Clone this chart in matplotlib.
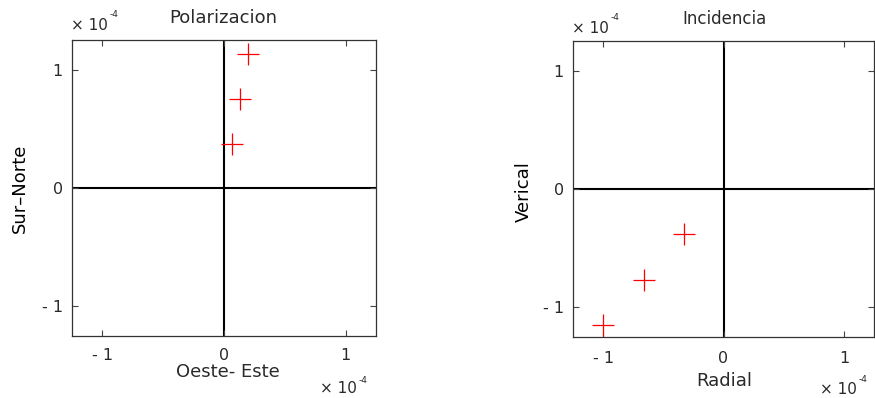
import matplotlib
matplotlib.use("Agg")
import matplotlib.pyplot as plt

plt.rcParams['font.family'] = ['DejaVu Sans']

# Polarization components (East-West, South-North)
pol_oeste_este = [0.067e-4, 0.13e-4, 0.20e-4]
pol_sur_norte = [0.37e-4, 0.75e-4, 1.13e-4]

# Incidence components (Radial, Vertical)
inc_radial = [-0.33e-4, -0.66e-4, -1.00e-4]
inc_vertical = [-0.38e-4, -0.77e-4, -1.15e-4]

tick_vals = [-1e-4, 0, 1e-4]
tick_labels = ["- 1", "0", "1"]
lim = 1.25e-4

W, H = 875, 398
txt = "#2a2a2a"
fig = plt.figure(figsize=(W / 100, H / 100), dpi=100)


def px(x, y):
    """Pixel position (from top-left) to figure fraction."""
    return x / W, 1 - y / H


def frame(x0, y0, x1, y1):
    return [x0 / W, 1 - y1 / H, (x1 - x0) / W, (y1 - y0) / H]


panels = [
    dict(rect=frame(72, 40, 376, 336), xs=pol_oeste_este, ys=pol_sur_norte,
         title="Polarizacion", tsize=13, tpos=(223, 23),
         xlab="Oeste- Este", xsize=13, xpos=(228, 377),
         ylab="Sur\u2013Norte", ypos=(20, 188),
         xpad=8.5, top_exp=(71, 30, 110, 17), bot_exp=(320, 393, 359, 383)),
    dict(rect=frame(573, 41, 874, 337), xs=inc_radial, ys=inc_vertical,
         title="Incidencia", tsize=12, tpos=(724, 24),
         xlab="Radial", xsize=13, xpos=(724, 386),
         ylab="Verical", ypos=(524, 192),
         xpad=10.0, top_exp=(572, 33, 611, 20), bot_exp=(820, 394, 859, 382)),
]

for p in panels:
    ax = fig.add_axes(p["rect"])
    ax.axhline(0, color="black", lw=1.5, zorder=1)
    ax.axvline(0, color="black", lw=1.5, zorder=1)
    ax.plot(p["xs"], p["ys"], linestyle="none", marker="+", color="red",
            markersize=16, markeredgewidth=0.9, zorder=3)
    ax.set_xlim(-lim, lim)
    ax.set_ylim(-lim, lim)
    ax.set_xticks(tick_vals)
    ax.set_xticklabels(tick_labels)
    ax.set_yticks(tick_vals)
    ax.set_yticklabels(tick_labels)
    ax.tick_params(direction="in", length=4, width=0.8, color="#444444",
                   top=True, right=True, labelsize=11.5, labelcolor=txt)
    ax.tick_params(axis="x", pad=p["xpad"])
    ax.tick_params(axis="y", pad=6.5)
    for sp in ax.spines.values():
        sp.set_linewidth(0.9)
        sp.set_color("#333333")

    fig.text(*px(*p["tpos"]), p["title"], fontsize=p["tsize"], color=txt,
             ha="center", va="baseline")
    fig.text(*px(*p["xpos"]), p["xlab"], fontsize=p["xsize"], color=txt,
             ha="center", va="baseline")
    fig.text(*px(*p["ypos"]), p["ylab"], fontsize=13, color="black",
             rotation=90, ha="center", va="center")

    # scale factor notes for the axes
    for (bx, by, sx, sy) in (p["top_exp"], p["bot_exp"]):
        fig.text(*px(bx, by), "\u00d7 10", fontsize=11, color=txt,
                 ha="left", va="baseline")
        fig.text(*px(sx, sy), "-4", fontsize=6.5, color=txt,
                 ha="left", va="baseline")

fig.savefig("out.png", dpi=100)
